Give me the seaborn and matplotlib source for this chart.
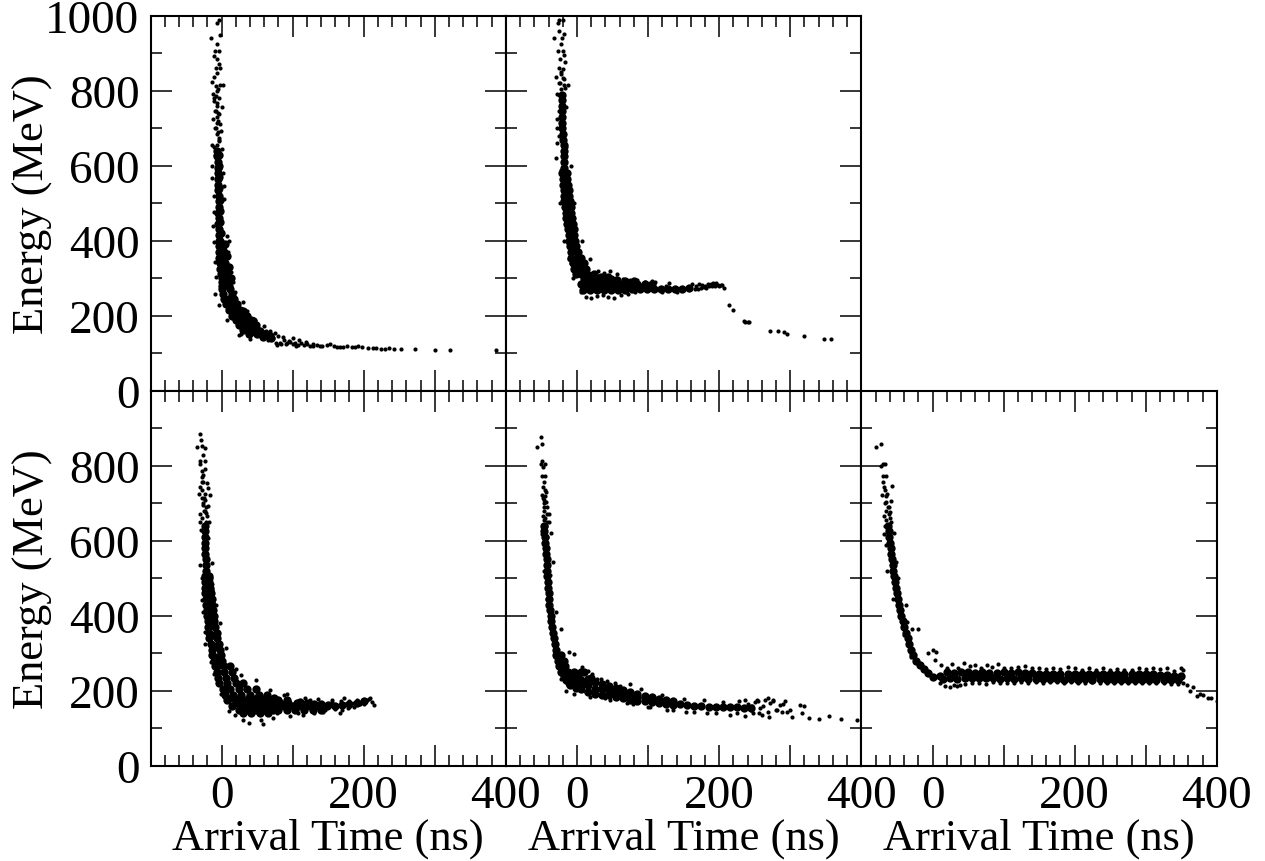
# Arrival time vs energy, five panels
import matplotlib
matplotlib.use('Agg')
import matplotlib.pyplot as plt
import seaborn as sns

# dense_* = points of the solid band, drawn with a fatter dot
# t* / e* = single dots
dense_t1 = [-6,-6,-5,-5,-5,-5,-5,-5,-4,-4,-4,-5,-3,-5,-3,-4,-2,-4,-1,
            -4,2, -3,3, -3,4, -2,5, -2,6, -1,7, 0,8, 0,9, 1,10, 0,12, 2,14,
            3,10,18, 6,14,22, 10,18,26, 14,22,30,36, 20,28,36,42, 24,32,40,48, 30,40,50, 38,50,62, 58,70,
            -3,-3,-3,-3,-2,-2,-2,-1, 5,7,10,13,
            30,26,34,30,38,44,46,54,42,60,68]
dense_e1 = [640,625,610,595,580,565,550,535,520,505,490,475,460,445,430,415,400,400,385,
            385,385, 370,370, 355,355, 340,340, 325,325, 310,310, 300,300, 290,290, 280,280, 270,270, 258,258,
            245,245,245, 230,230,230, 215,215,215, 200,200,200,200, 188,188,188,188, 175,175,175,175, 162,162,162, 150,150,150, 142,140,
            630,600,570,540,510,480,450,420, 390,360,330,300,
            212,190,190,178,175,185,165,158,155,150,145]
t1 = [-6,-3,-15,-2,-6,-9,-4,-11,-6,-4,-8,-2,-6,-10,-13,2,-2,-8,-5,-12,-8,-3,-11,-6,0,-9,-3,-12,-5,-2,-9,-1,-7,-14,1,-11,
      -6,-7,-5,-8,-4,-6,-9,-5,-3,-7,-8,-4,-10,-6,-3,
      -13,2,-14,3,-11,4,-11,-12,8,-10,11,-9,9,13,-8,16,-9,-3,30,19,36,7,47,25,27,40,75,63,87,100,109,119,78,91,105,
      55,65,70,82,95,129,138,153,162,171,183,198,206,213,225,236,243,252,272,301,321,386,
      33,45,60,68,72,76,80,84,88,92,96,100,104,108,112,116,120,124,128,134,142,148,158,166,176,188,192,218,230]
e1 = [982,989,942,948,924,907,907,892,884,871,862,862,847,836,824,817,817,812,804,791,787,782,773,767,756,747,738,724,720,711,702,693,684,656,644,649,
      800,760,740,700,670,655,628,690,665,715,745,675,780,730,635,
      600,582,567,547,520,511,476,440,413,396,400,342,369,316,302,289,259,227,236,262,213,187,187,147,152,138,154,160,142,140,136,129,122,124,120,
      145,135,150,128,133,120,120,123,117,116,115,115,114,114,112,114,111,112,110,109,109,108,
      215,190,172,158,140,128,145,125,135,126,130,124,128,122,127,121,125,120,123,122,118,121,120,116,119,115,118,113,112]

dense_t2 = [-21,-21,-21,-21,-21,-21,-21,-20,-20,-19,-19,-19,-18,-18,
            -21,-14, -20,-14, -20,-13, -19,-12, -19,-11, -18,-10, -17,-9, -16,-8, -15,-7, -14,-6, -13,-5, -12,-4, -11,-3, -10,-1, -9,2,
            -8,0,6, -6,2,10, -4,4,12, -2,6,14,24,
            10,18,28,38,48, 6,15,25,35,45,55,65,75,85,95,105, 8,18,28,38,48,58,68,78,88,98,108,118,128,138,148,158,
            -17,-16,-15,-14,-12,-11,-9,-7,-5,-3,
            20,32,44,56,68,80,92,104, 34,44,56,68,80]
dense_e2 = [790,775,760,745,730,715,700,685,670,655,640,625,610,595,
            580,580, 565,565, 550,550, 535,535, 520,520, 505,505, 490,490, 475,475, 460,460, 445,445, 430,430, 415,415, 400,400, 385,385, 370,370,
            355,355,355, 340,340,340, 325,325,325, 312,312,312,312,
            298,298,298,298,298, 285,285,285,285,285,285,285,285,285,285,285, 268,268,268,268,268,268,269,270,270,271,271,272,272,272,272,273,
            575,550,525,500,475,450,425,400,375,350,
            276,276,276,276,276,276,276,276, 304,302,296,292,292]
t2 = [-25,-20,-27,-25,-19,-32,-21,-23,-27,-20,-19,-24,-17,-25,-20,-23,-29,-19,-13,-26,-28,-17,-15,-28,-26,
      -28,-9,-24,-4,-19,7,-12,18,-6,56,-26,-15,-30,-28,-22,-8,3,10,30,22,38,46,55,65,75,85,95,105,5,12,20,28,36,44,52,62,72,82,
      166,170,174,178,182,186,190,194,198,200,204,207,162,168,172,176,180,184,188,192,196,202,
      214,220,235,237,240,242,272,283,291,295,320,348,358,
      120,130,140,110,125,-22,-24,-20,-18,-23,-25]
e2 = [989,989,980,960,951,942,940,924,907,907,895,884,876,862,858,844,836,831,817,822,791,809,756,724,747,
      700,600,500,500,400,400,350,350,300,310,680,650,620,660,590,340,315,330,320,305,315,318,300,298,296,295,290,292,262,250,246,252,255,250,248,254,258,262,
      270,272,274,276,275,278,280,279,281,280,283,275,284,280,285,283,280,284,285,287,286,282,
      228,215,186,184,182,184,160,158,155,150,145,138,138,
      262,288,264,290,278,805,820,835,815,850,790]

dense_t3 = [-24,-24,-23,-23,-23,-23,-22,-22,-22,
            -24,-18, -23,-17, -23,-16, -23,-15, -22,-14, -22,-13, -21,-12, -20,-11, -19,-10, -19,-9, -18,-7, -17,-6, -15,-4, -14,-2, -13,-1, -11,1,
            -9,3,12, -7,4,14, -5,6,18, -3,8,20,30, 2,12,24,36,48, 5,16,28,40,52,64,
            8,20,32,44,56,68,80,92, 15,28,40,52,64,76,88,100,112,124,136,148, 24,36,48,60,72,
            160,170,180,190,200,
            14,26,38,50,62,74, 22,34,46,58,70,82,94,106, 110,120,130,140,150,
            30,42,54,66,80,92,104,116,128,140,
            -17,-16,-15,-14,-13,-11,-8,-6,-4]
dense_e3 = [640,625,610,595,580,565,550,535,520,
            505,505, 490,490, 475,475, 460,460, 445,445, 430,430, 415,415, 400,400, 385,385, 370,370, 355,355, 340,340, 325,325, 310,310, 295,295, 280,280,
            265,265,265, 250,250,250, 235,235,235, 220,220,220,220, 205,205,205,205,205, 190,190,190,190,190,190,
            175,175,175,175,175,175,175,175, 160,160,160,160,160,160,160,160,160,160,160,160, 148,148,148,148,148,
            160,162,165,168,172,
            182,182,182,182,182,182, 167,167,167,167,167,167,167,167, 170,168,165,165,162,
            142,140,140,142,150,150,150,148,150,150,
            500,470,440,410,380,350,320,290,270]
t3 = [-30,-29,-35,-28,-23,-26,-24,-30,-30,-27,-28,-21,-26,-30,-19,-32,-16,-28,-23,-19,-26,-31,-22,-17,-30,-29,-19,-30,-14,-28,-13,-28,-8,-2,-26,-23,6,-23,-15,20,-11,-1,28,48,68,92,
      11,19,30,38,59,56,73,96,115,143,166,155,173,190,209,214,195,180,125,105,
      -25,-27,-22,-24,-26,-21,-28,-25,-23,-27,-22,-26,-24,
      150,156,162,168,174,180,186,192,198,204,208,212,146,160,170,178,186,200,130,136,118,108,88,78]
e3 = [884,869,849,852,846,828,812,811,804,786,770,753,757,744,741,724,722,713,708,693,695,671,673,651,649,628,606,535,540,500,486,442,428,382,411,357,313,324,277,258,246,193,242,228,202,193,
      146,137,122,115,111,122,129,132,135,144,142,175,180,175,181,162,166,157,175,171,
      680,660,690,725,700,665,735,715,680,755,650,775,790,
      165,170,160,172,164,172,168,174,170,176,178,170,150,152,148,155,158,164,142,178,180,140,188,140]

dense_t4 = [-46,-46,-45,-45,-44,-44,-43,-42,-42,-42,-41,-41,-40,-40,-39,-38,-37,-36,-35,-34,-33,-31,-30,
            -29,-22, -27,-19, -25,-17, -22,-13,-4, -18,-8,2, -15,-5,6, -11,0,10,
            5,5, 15,15,15, 25,25,25, 35,35, 45,45, 55,55, 65,65, 75,75, 85,85, 95,95, 105,105, 115,115, 125,125, 135,135,
            145,155,165,175,185,195,205,215,225,235,245,
            35,45,55,65,75,85,95,105,115,125, -10,-2,10,20]
dense_e4 = [640,625,610,595,580,565,550,535,520,505,490,475,460,445,430,415,400,385,370,355,340,325,310,
            295,295, 280,280, 265,265, 250,250,250, 240,240,240, 230,230,230, 220,220,220,
            250,205, 232,215,198, 225,205,192, 218,190, 212,188, 208,184, 203,180, 198,176, 192,174, 187,172, 183,170, 178,168, 175,165, 172,163,
            165,163,161,159,158,157,157,156,156,155,155,
            204,200,196,192,187,183,180,177,173,170, 215,208,250,235]
t4 = [-51,-50,-56,-49,-51,-45,-48,-50,-45,-47,-48,-45,-50,-45,-44,-47,-43,-48,-39,-47,-40,-36,-49,-45,-45,-34,-46,-38,-43,-29,-22,-38,-4,-12,-31,-23,7,21,33,42,54,74,-15,-4,18,47,79,103,126,154,183,215,237,
      236,253,268,276,293,285,270,260,295,302,299,314,319,317,326,340,354,371,394,
      -46,-45,-44,-47,-43,-42,-48,-44,-46,-42,-47,
      240,245,250,255,262,265,272,280,288,290,248,258,268,276,282,246,256,
      15,28,60,90,120,150,178,205,228,12,40,70,100,135,165,195,225]
e4 = [876,857,849,811,805,805,795,771,773,757,744,735,722,720,704,708,690,666,672,637,649,620,619,606,571,544,520,508,446,411,364,393,298,304,291,233,264,244,231,226,220,219,199,193,184,175,166,157,148,144,140,135,132,
      177,175,180,175,172,162,131,135,144,131,148,162,160,142,128,124,133,124,123,
      690,660,640,680,650,610,715,730,655,670,700,
      165,150,170,172,160,175,168,150,145,165,140,155,145,172,148,160,140,
      252,232,212,205,190,178,176,170,172,196,182,168,158,150,144,142,142]

dense_t5 = [-63,-62,-61,-60,-59,-58,-57,-56,-55,-54,-53,-52,-50,-49,-47,-46,-44,-42,-40,-38,-35,-33,-31,-28,-24,-18,-12,-6,0,
            10,15,20,25,30,35,40,45,50,55,60,65,70,75,80,85,90,95,100,105,110,115,120,125,130,135,140,145,150,155,160,165,170,175,
            180,185,190,195,200,205,210,215,220,225,230,235,240,245,250,255,260,265,270,275,280,285,290,295,300,305,310,315,320,325,330,335,340,345,350]
dense_e5 = [640,625,610,595,580,565,550,535,520,505,490,475,460,445,430,415,400,385,370,355,340,325,310,295,280,268,258,248,238,
            240,232,250,234,248,232,250,234,250,234,248,234,250,234,248,234,248,232,250,234,248,232,250,234,248,232,248,232,246,232,246,232,246,232,
            246,230,246,232,246,230,246,232,246,230,246,232,246,230,244,230,244,230,244,230,244,230,244,230,244,230,244,228,242,228,242,230,240,230,240]
t5 = [-72,-79,-70,-67,-72,-66,-70,-70,-69,-67,-71,-66,-65,-63,-68,-60,-67,-58,-54,-69,-65,-52,-64,-49,-55,-38,-36,-20,-29,-40,0,5,-7,4,-31,0,25,30,39,
      358,366,362,372,376,380,387,392,400,
      -62,-66,-61,-59,-65,-57,-64,-60,-67,-63,
      12,20,28,36,44,52,60,68,76,84,92,100,110,120,130,140,150,160,170,180,190,200,210,220,230,240,250,260,270,280,290,300,310,320,330,340,350,353,
      10,18,35,45,55,65,75,85,95,105,115,125,135,145,155,165,175,185,195,205,215,225,235,245,255,265,275,285,295,305,315,325,335,345,352]
e5 = [857,849,804,805,798,773,771,757,744,735,722,720,704,690,666,676,640,649,620,619,588,544,520,500,446,428,384,364,366,348,308,304,300,282,291,234,211,215,215,
      215,210,201,186,191,188,182,182,173,
      690,655,670,705,680,745,725,660,700,640,
      268,262,272,262,275,266,270,262,268,264,272,262,262,264,266,260,262,258,262,258,264,260,256,260,256,262,256,258,256,255,262,258,262,258,260,254,262,256,
      220,214,212,218,220,220,218,224,222,222,222,224,222,224,222,224,224,222,224,222,222,224,222,222,222,220,222,220,222,220,220,222,218,218,220]

xmajor = [-100, 0, 100, 200, 300, 400]
xlabels = ['', '0', '', '200', '', '400']
xminor = list(range(-100, 401, 20))
ymajor = [0, 200, 400, 600, 800, 1000]
ymajor_top = ['0', '200', '400', '600', '800', '1000']
ymajor_low = ['0', '200', '400', '600', '800', '']
yminor = [100, 300, 500, 700, 900]

sns.set_style('white')
plt.rcParams['font.family'] = ['Liberation Serif']
plt.rcParams['text.color'] = 'k'
plt.rcParams['axes.labelcolor'] = 'k'
plt.rcParams['xtick.color'] = 'k'
plt.rcParams['ytick.color'] = 'k'

W, H = 1265, 862
fig = plt.figure(figsize=(W / 100, H / 100), dpi=100)
lefts = [150.5, 506, 861.5]
PW = 355.3


def panel(col, top, bottom, t, e, dense_t, dense_e, ylab=None, xlab=False):
    ax = fig.add_axes([lefts[col] / W, 1 - bottom / H, PW / W, (bottom - top) / H])
    sns.scatterplot(x=dense_t, y=dense_e, ax=ax, color='k', s=36, linewidth=0)
    sns.scatterplot(x=t, y=e, ax=ax, color='k', s=9, linewidth=0)
    ax.set_xlim(-100, 400)
    ax.set_ylim(0, 1000)
    ax.set_xticks(xmajor)
    ax.set_xticks(xminor, minor=True)
    ax.set_yticks(ymajor)
    ax.set_yticks(yminor, minor=True)
    ax.set_xticklabels(xlabels if xlab else [''] * 6)
    ax.set_yticklabels(ylab if ylab else [''] * 6)
    ax.tick_params(which='major', direction='in', length=15, width=1.1, labelsize=34,
                   top=True, bottom=True, left=True, right=True, pad=8)
    ax.tick_params(which='minor', direction='in', length=8, width=1.1,
                   top=True, bottom=True, left=True, right=True)
    ax.tick_params(axis='x', pad=6)
    for s in ax.spines.values():
        s.set_linewidth(1.5)
        s.set_color('k')
    if ylab:
        ax.set_ylabel('Energy (MeV)', fontsize=32)
        ax.yaxis.set_label_coords(-0.274, 0.5)
    if xlab:
        ax.set_xlabel('Arrival Time (ns)', fontsize=32)
        ax.xaxis.set_label_coords(0.5, -0.136)
    return ax


panel(0, 17, 391.5, t1, e1, dense_t1, dense_e1, ylab=ymajor_top)
panel(1, 17, 391.5, t2, e2, dense_t2, dense_e2)
panel(0, 391.5, 767, t3, e3, dense_t3, dense_e3, ylab=ymajor_low, xlab=True)
panel(1, 391.5, 767, t4, e4, dense_t4, dense_e4, xlab=True)
panel(2, 391.5, 767, t5, e5, dense_t5, dense_e5, xlab=True)

plt.savefig('out.png', dpi=100)
